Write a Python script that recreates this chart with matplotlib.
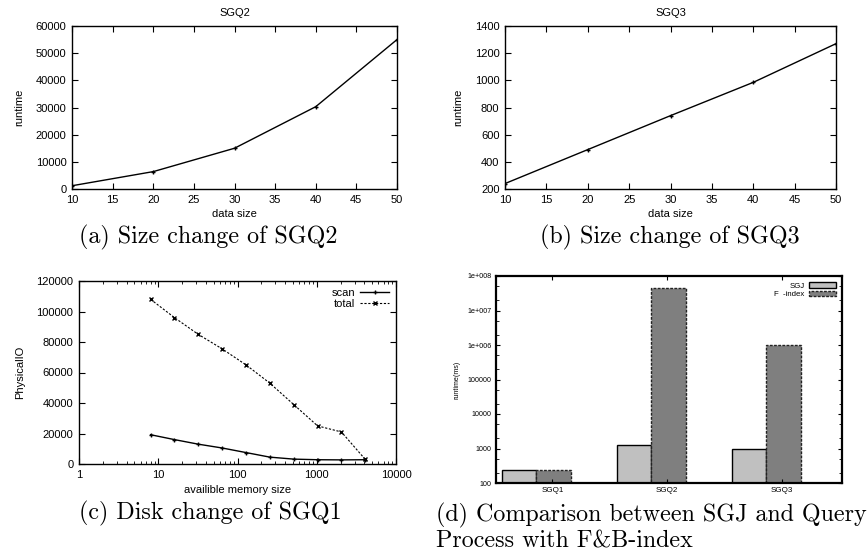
import numpy as np
import matplotlib
matplotlib.use('Agg')
import matplotlib.pyplot as plt
from matplotlib.ticker import FixedLocator, NullFormatter, LogLocator

plt.rcParams['font.family'] = ['Liberation Sans', 'DejaVu Sans']

# (a) SGQ2 size change
size_x = [10, 20, 30, 40, 50]
sgq2_runtime = [1200, 6400, 15000, 30300, 55000]
# (b) SGQ3 size change
sgq3_runtime = [240, 490, 740, 985, 1270]
# (c) disk change of SGQ1
mem_size = [8, 16, 32, 64, 128, 256, 512, 1024, 2048, 4096]
scan_io = [19200, 16000, 13000, 10500, 7500, 4500, 3200, 2800, 2700, 2800]
total_io = [108000, 96000, 85000, 75500, 65000, 53000, 39000, 25000, 21000, 3000]
# (d) comparison
queries = ['SGQ1', 'SGQ2', 'SGQ3']
sgj_ms = [240, 1300, 950]
fb_ms = [240, 4.5e7, 1.0e6]

W, H = 868, 555
fig = plt.figure(figsize=(W / 100, H / 100), dpi=100)

def ax_px(l, t, r, b):
    return fig.add_axes([l / W, 1 - b / H, (r - l) / W, (b - t) / H])

def gp_style(ax):
    ax.tick_params(direction='in', top=True, right=True, labelsize=8,
                   length=4, width=0.8, pad=4)
    ax.tick_params(which='minor', direction='in', top=True, right=True, length=2)
    for s in ax.spines.values():
        s.set_linewidth(1.0)

cap_font = dict(family='cmr10', fontsize=17.3)

# (a)
ax = ax_px(72, 26, 397, 189)
ax.plot(size_x, sgq2_runtime, color='black', lw=1, marker='+', ms=3.5)
ax.set_xlim(10, 50)
ax.set_ylim(0, 60000)
ax.set_xticks(range(10, 51, 5))
ax.set_yticks(range(0, 60001, 10000))
ax.set_title('SGQ2', fontsize=8, pad=7)
ax.set_xlabel('data size', fontsize=8, labelpad=3)
ax.set_ylabel('runtime', fontsize=8, labelpad=8)
gp_style(ax)
fig.text(208 / W, 1 - 243 / H, '(a) Size change of SGQ2', ha='center', va='baseline', **cap_font)

# (b)
ax = ax_px(505, 26, 836, 189)
ax.plot(size_x, sgq3_runtime, color='black', lw=1, marker='+', ms=3.5)
ax.set_xlim(10, 50)
ax.set_ylim(200, 1400)
ax.set_xticks(range(10, 51, 5))
ax.set_yticks(range(200, 1401, 200))
ax.set_title('SGQ3', fontsize=8, pad=7)
ax.set_xlabel('data size', fontsize=8, labelpad=3)
ax.set_ylabel('runtime', fontsize=8, labelpad=8)
gp_style(ax)
fig.text(670 / W, 1 - 243 / H, '(b) Size change of SGQ3', ha='center', va='baseline', **cap_font)

# (c)
ax = ax_px(79, 281, 396, 464)
ax.plot(mem_size, scan_io, color='black', lw=1, marker='+', ms=3.5, label='scan')
ax.plot(mem_size, total_io, color='black', lw=0.8, ls=(0, (2, 1.5)), marker='x', ms=3,
        label='total')
ax.set_xscale('log')
ax.set_xlim(1, 10000)
ax.set_ylim(0, 120000)
ax.set_yticks(range(0, 120001, 20000))
ax.set_xticks([1, 10, 100, 1000, 10000])
ax.set_xticklabels(['1', '10', '100', '1000', '10000'])
ax.xaxis.set_minor_locator(LogLocator(base=10, subs=np.arange(2, 10)))
ax.xaxis.set_minor_formatter(NullFormatter())
ax.set_xlabel('availible memory size', fontsize=8, labelpad=4)
ax.set_ylabel('PhysicalIO', fontsize=8, labelpad=8)
gp_style(ax)
ax.legend(loc='upper right', fontsize=8, frameon=False, markerfirst=False,
          handlelength=2.6, borderaxespad=0.2, labelspacing=0.1, handletextpad=0.5)
fig.text(210 / W, 1 - 519 / H, '(c) Disk change of SGQ1', ha='center', va='baseline', **cap_font)

# (d)
ax = ax_px(496, 276, 842, 483)
xpos = np.arange(len(queries))
bw = 0.3
ax.bar(xpos - bw / 2, sgj_ms, width=bw, color='#c0c0c0', edgecolor='black', lw=1,
       label='SGJ')
ax.bar(xpos + bw / 2, fb_ms, width=bw, color='#7f7f7f', edgecolor='#222222', lw=1,
       ls=(0, (2, 1)), label='F  -index')
ax.set_yscale('log')
ax.set_ylim(100, 1e8)
ax.set_xlim(-0.35, 2.66)
ax.set_xticks(xpos + 0.14)
ax.set_xticklabels(queries)
ax.yaxis.set_major_locator(FixedLocator([1e2, 1e3, 1e4, 1e5, 1e6, 1e7, 1e8]))
ax.set_yticklabels(['100', '1000', '10000', '100000', '1e+006', '1e+007', '1e+008'])
ax.yaxis.set_minor_locator(LogLocator(base=10, subs=[2, 5]))
ax.yaxis.set_minor_formatter(NullFormatter())
ax.tick_params(axis='y', labelsize=5.1)
ax.tick_params(axis='x', labelsize=5.8)
ax.tick_params(direction='in', top=True, right=True, length=3, width=0.8, pad=3)
ax.tick_params(which='minor', direction='in', right=True, left=True, length=2)
for s in ax.spines.values():
    s.set_linewidth(1.6)
ax.set_ylabel('runtime(ms)', fontsize=5.1, labelpad=5)
ax.legend(loc='upper right', fontsize=5.6, frameon=False, markerfirst=False,
          handlelength=3.4, handleheight=0.7, borderaxespad=0.4, labelspacing=0.15,
          handletextpad=0.6)
fig.text(436 / W, 1 - 521 / H, '(d) Comparison between SGJ and Query', ha='left',
         va='baseline', **cap_font)
fig.text(436 / W, 1 - 548 / H, 'Process with F&B-index', ha='left', va='baseline', **cap_font)

fig.savefig('out.png', dpi=100)
